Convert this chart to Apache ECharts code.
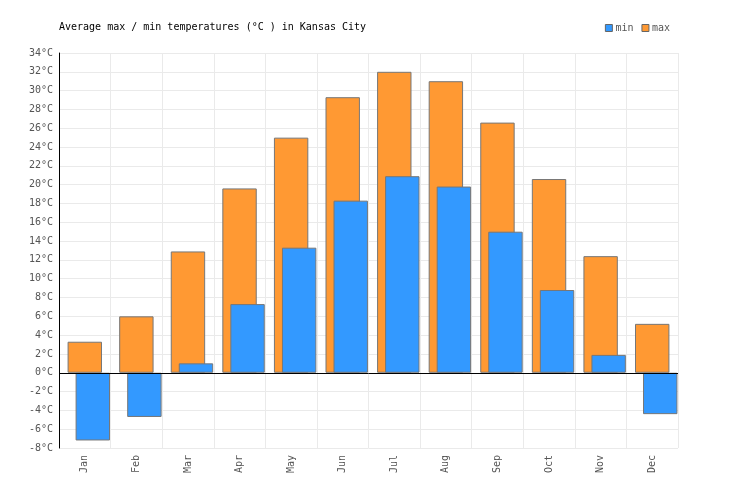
<!DOCTYPE html>
<html>
<head>
<meta charset="utf-8">
<script src="https://cdn.jsdelivr.net/npm/echarts@6/dist/echarts.min.js"></script>
<style>html,body{margin:0;padding:0;background:#fff}#c{width:736px;height:500px}</style>
</head>
<body>
<div id="c"></div>
<script>
var months = ['Jan','Feb','Mar','Apr','May','Jun','Jul','Aug','Sep','Oct','Nov','Dec'];
var minTemps = [-7.2, -4.7, 1.0, 7.3, 13.3, 18.3, 20.9, 19.8, 15.0, 8.8, 1.9, -4.4];
var maxTemps = [3.3, 6.0, 12.9, 19.6, 25.0, 29.3, 32.0, 31.0, 26.6, 20.6, 12.4, 5.2];
var titleText = 'Average max / min temperatures (°C ) in Kansas City';

var font = 'DejaVu Sans Mono';
var chart = echarts.init(document.getElementById('c'));
var barCommon = {
  type: 'bar',
  barWidth: '66.7%',
  barGap: '-76.7%',
  itemStyle: { borderColor: '#777', borderWidth: 1 }
};
chart.setOption({
  animation: false,
  textStyle: { fontFamily: font },
  title: {
    text: titleText,
    left: 54, top: 17,
    textStyle: { fontFamily: font, fontSize: 10, fontWeight: 'normal', color: '#000' }
  },
  legend: {
    data: ['min', 'max'],
    right: 61, top: 18,
    itemWidth: 7, itemHeight: 7, itemGap: 8,
    icon: 'rect',
    textStyle: { fontFamily: font, fontSize: 10, color: '#555', padding: [0, 0, 0, -2] },
    itemStyle: { borderColor: '#666', borderWidth: 1 }
  },
  grid: { left: 59, right: 58, top: 53, bottom: 52, containLabel: false },
  xAxis: {
    type: 'category',
    data: months,
    axisLine: { show: false, onZero: false },
    axisTick: { show: false },
    axisLabel: { rotate: 90, color: '#555', fontFamily: font, fontSize: 10, margin: 7 },
    splitLine: { show: true, lineStyle: { color: '#eaeaea', width: 1 } }
  },
  yAxis: {
    type: 'value',
    min: -8, max: 34, interval: 2,
    axisLine: { show: true, lineStyle: { color: '#000', width: 1 } },
    axisTick: { show: false },
    axisLabel: { color: '#555', fontFamily: font, fontSize: 10, margin: 6, formatter: function (v) { return v + '°C'; } },
    splitLine: { show: true, lineStyle: { color: '#eaeaea', width: 1 } }
  },
  series: [
    Object.assign({}, barCommon, { name: 'spacer', data: [], silent: true }),
    Object.assign({}, barCommon, { name: 'max', data: maxTemps, itemStyle: { color: '#ff9933', borderColor: '#777', borderWidth: 1 } }),
    Object.assign({}, barCommon, {
      name: 'min', data: minTemps,
      itemStyle: { color: '#3399ff', borderColor: '#777', borderWidth: 1 },
      markLine: {
        silent: true, symbol: 'none', label: { show: false },
        lineStyle: { color: '#000', type: 'solid', width: 1 },
        data: [{ yAxis: 0 }]
      }
    })
  ],
  color: ['#fff', '#ff9933', '#3399ff']
});
</script>
</body>
</html>
